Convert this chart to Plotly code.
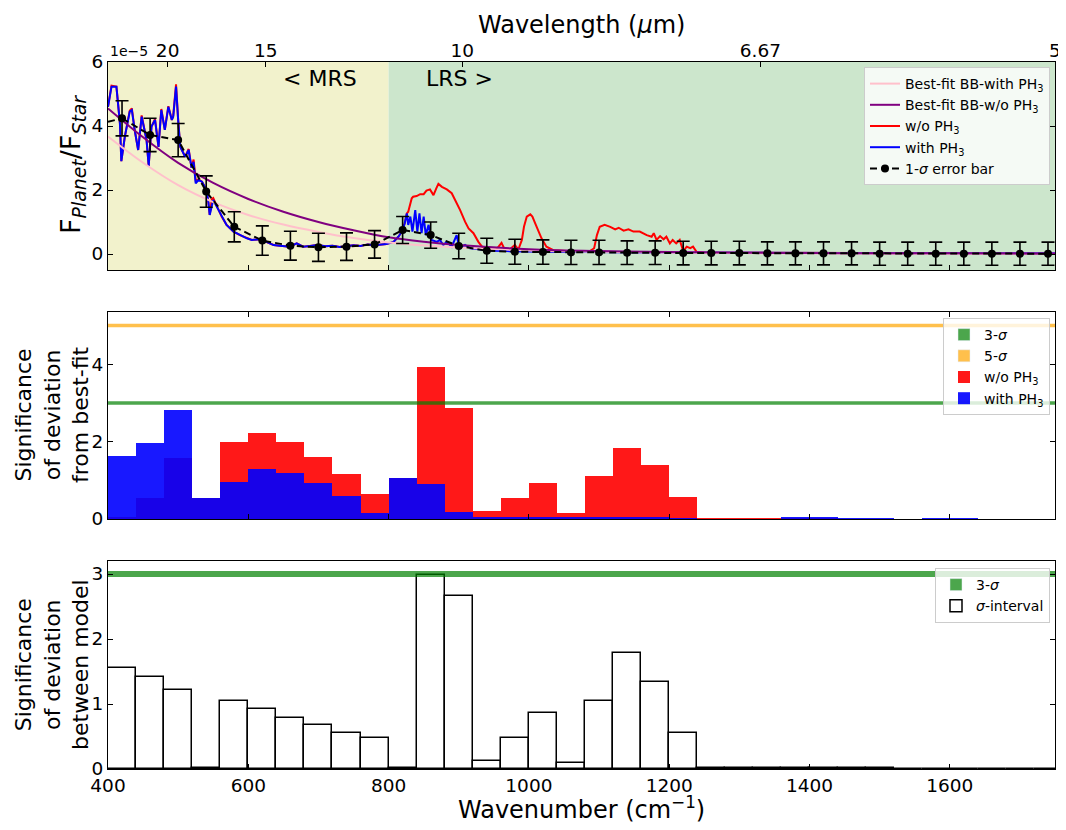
import plotly.graph_objects as go

# ---------------- data ----------------
# Top panel: high-resolution spectra (wavenumber cm^-1, F_planet/F_star in 1e-5)
wn_blue = [400, 405, 412, 417, 419, 424, 431, 434, 438, 443, 448, 452, 455, 458, 462, 467, 472, 476,
           481, 486, 491, 493, 497, 500, 503, 510, 515, 519, 522, 525, 529, 534, 538, 541, 543, 545,
           548, 550, 555, 562, 569, 579, 588, 598, 605, 617, 626, 636, 645, 659, 669, 678, 688, 698,
           710, 720, 730, 740, 750, 760, 770, 780, 788, 797, 807, 814, 819, 823, 826, 828, 831, 834,
           838, 841, 844, 847, 850, 853, 857, 861, 869, 873, 878, 883, 890, 897, 901, 909, 916, 926,
           935, 949, 968, 987, 1000, 1050, 1080, 1100, 1150, 1200, 1250, 1300, 1350, 1400, 1450,
           1500, 1600, 1750]
flux_blue = [4.60, 5.23, 5.23, 4.08, 2.90, 3.67, 4.45, 4.50, 3.88, 3.25, 4.29, 3.88, 3.56, 2.75, 3.98,
             4.19, 3.35, 4.50, 3.88, 4.60, 4.19, 4.29, 5.23, 4.19, 3.35, 3.04, 3.25, 2.70, 2.88, 2.21,
             2.31, 2.26, 2.10, 1.90, 1.64, 1.22, 1.58, 1.69, 1.48, 1.17, 0.91, 0.70, 0.59, 0.49, 0.44,
             0.46, 0.38, 0.28, 0.26, 0.23, 0.33, 0.23, 0.25, 0.28, 0.24, 0.26, 0.22, 0.24, 0.27, 0.25,
             0.30, 0.27, 0.28, 0.31, 0.38, 0.54, 0.70, 0.96, 1.27, 0.91, 1.17, 0.70, 1.37, 0.70, 1.27,
             0.65, 1.17, 0.59, 0.91, 0.44, 0.38, 0.44, 0.28, 0.38, 0.23, 0.59, 0.18, 0.28, 0.18, 0.15,
             0.12, 0.10, 0.09, 0.08, 0.07, 0.06, 0.08, 0.06, 0.05, 0.05, 0.04, 0.04, 0.03, 0.03, 0.03,
             0.02, 0.02, 0.02]

wn_red = [400, 405, 412, 417, 419, 424, 431, 434, 438, 443, 448, 452, 455, 458, 462, 467, 472, 476,
          481, 486, 491, 493, 497, 500, 503, 510, 515, 519, 522, 525, 529, 534, 538, 541, 543, 545,
          548, 550, 555, 562, 569, 579, 588, 598, 605, 617, 626, 636, 645, 659, 669, 678, 688, 698,
          710, 720, 730, 740, 750, 760, 770, 780, 788, 797, 807, 814, 819, 823, 826, 828, 833, 835,
          840, 845, 850, 854, 859, 864, 868, 871, 876, 883, 890, 895, 902, 909, 914, 921, 928, 935,
          940, 947, 954, 961, 966, 973, 980, 985, 990, 993, 997, 1002, 1005, 1009, 1013, 1018, 1025,
          1035, 1054, 1087, 1093, 1097, 1101, 1108, 1116, 1123, 1128, 1135, 1142, 1149, 1158, 1168,
          1175, 1178, 1182, 1187, 1192, 1196, 1201, 1205, 1210, 1215, 1220, 1225, 1230, 1234, 1239,
          1250, 1300, 1400, 1500, 1600, 1750]
flux_red = [4.60, 5.26, 5.23, 4.08, 2.90, 3.67, 4.48, 4.55, 3.88, 3.25, 4.33, 3.88, 3.56, 2.75, 3.98,
            4.22, 3.35, 4.53, 3.88, 4.62, 4.19, 4.33, 5.30, 4.19, 3.35, 3.04, 3.28, 2.70, 2.95, 2.30,
            2.33, 2.26, 2.10, 1.90, 1.64, 1.22, 1.72, 1.75, 1.50, 1.17, 0.91, 0.70, 0.59, 0.49, 0.44,
            0.46, 0.38, 0.28, 0.26, 0.23, 0.33, 0.23, 0.25, 0.28, 0.24, 0.26, 0.22, 0.24, 0.27, 0.25,
            0.30, 0.27, 0.28, 0.31, 0.38, 0.54, 0.70, 0.96, 1.27, 1.32, 1.74, 1.79, 1.81, 1.87, 1.87,
            1.98, 2.02, 1.84, 2.05, 2.19, 2.10, 2.02, 1.90, 1.69, 1.37, 1.01, 0.80, 0.65, 0.38, 0.18,
            0.12, 0.12, 0.15, 0.35, 0.12, 0.15, 0.28, 0.14, 0.44, 0.85, 1.17, 1.24, 1.17, 0.96, 0.75,
            0.49, 0.23, 0.12, 0.09, 0.09, 0.18, 0.59, 0.85, 0.91, 0.85, 0.77, 0.82, 0.73, 0.77, 0.70,
            0.70, 0.59, 0.54, 0.65, 0.44, 0.56, 0.46, 0.54, 0.33, 0.44, 0.33, 0.44, 0.09, 0.23, 0.18,
            0.23, 0.07, 0.05, 0.04, 0.03, 0.03, 0.02, 0.02]

# Best-fit blackbody curves
wn_bb = [400, 450, 500, 550, 600, 650, 700, 750, 800, 850, 900, 1000, 1100, 1200, 1300, 1400, 1500, 1600, 1750]
bb_with_ph3 = [3.67, 2.85, 2.15, 1.62, 1.22, 0.92, 0.69, 0.50, 0.36, 0.27, 0.20, 0.11, 0.07, 0.04, 0.03, 0.02, 0.01, 0.01, 0.01]
bb_without_ph3 = [4.55, 3.65, 2.85, 2.22, 1.72, 1.32, 1.00, 0.74, 0.52, 0.38, 0.28, 0.15, 0.09, 0.06, 0.04, 0.03, 0.02, 0.02, 0.01]

# Binned points with 1-sigma error bars
bin_centers = [420, 460, 500, 540, 580, 620, 660, 700, 740, 780, 820, 860, 900, 940, 980, 1020, 1060,
               1100, 1140, 1180, 1220, 1260, 1300, 1340, 1380, 1420, 1460, 1500, 1540, 1580, 1620,
               1660, 1700, 1740]
binned_flux = [4.24, 3.72, 3.56, 1.95, 0.85, 0.42, 0.26, 0.21, 0.23, 0.30, 0.75, 0.59, 0.25, 0.10, 0.07,
               0.06, 0.05, 0.05, 0.04, 0.04, 0.03, 0.03, 0.03, 0.02, 0.02, 0.02, 0.02, 0.01, 0.01, 0.01,
               0.01, 0.01, 0.01, 0.01]
binned_err = [0.55, 0.52, 0.52, 0.49, 0.47, 0.46, 0.45, 0.44, 0.43, 0.43, 0.42, 0.41, 0.40, 0.39, 0.39,
              0.38, 0.38, 0.38, 0.37, 0.37, 0.37, 0.37, 0.37, 0.36, 0.36, 0.36, 0.36, 0.36, 0.36, 0.36,
              0.36, 0.36, 0.36, 0.36]
# binned model line starts at the left edge of the first bin
binned_line_start_x = 400
binned_line_start_y = 4.13

# Middle panel: significance of deviation from best fit (per 40 cm^-1 bin)
bin_width = 40
sig_without_ph3 = [0.06, 0.55, 1.57, 0.53, 2.00, 2.21, 1.98, 1.60, 1.17, 0.65, 1.07, 3.93, 2.88, 0.20,
                   0.53, 0.94, 0.16, 1.11, 1.83, 1.40, 0.56, 0.02, 0.02, 0.02, 0.01, 0.01, 0.0, 0.0,
                   0.0, 0.0, 0.0, 0.0, 0.0, 0.0]
sig_with_ph3 = [1.64, 1.97, 2.82, 0.53, 0.95, 1.28, 1.18, 0.93, 0.60, 0.16, 1.07, 0.91, 0.17, 0.05,
                0.04, 0.04, 0.05, 0.05, 0.05, 0.05, 0.01, 0.0, 0.0, 0.0, 0.04, 0.04, 0.02, 0.01,
                0.0, 0.02, 0.01, 0.0, 0.0, 0.0]

# Bottom panel: significance of deviation between models
sig_between = [1.56, 1.41, 1.22, 0.01, 1.04, 0.92, 0.79, 0.67, 0.56, 0.48, 0.01, 2.98, 2.66, 0.13,
               0.47, 0.86, 0.10, 1.05, 1.78, 1.34, 0.56, 0.01, 0.02, 0.02, 0.01, 0.01, 0.01, 0.01,
               0.0, 0.0, 0.0, 0.0, 0.0, 0.0]

sigma_levels = {"3-σ": 3, "5-σ": 5}
x_range = [400, 1750]
bottom_ticks = [400, 600, 800, 1000, 1200, 1400, 1600]
wavelength_tick_pos = [485, 625, 905, 1330, 1750]
wavelength_tick_text = ["20", "15", "10", "6.67", "5"]
mrs_range = [400, 800]
lrs_range = [800, 1750]

# ---------------- figure ----------------
FONT = "DejaVu Sans"
GREEN = "rgba(0,128,0,0.7)"
ORANGE = "rgba(255,165,0,0.7)"

fig = go.Figure()

# top panel
fig.add_trace(go.Scatter(x=wn_red, y=flux_red, mode="lines", name="w/o PH<sub>3</sub>",
                         line=dict(color="red", width=2), legendrank=3, xaxis="x", yaxis="y"))
fig.add_trace(go.Scatter(x=wn_blue, y=flux_blue, mode="lines", name="with PH<sub>3</sub>",
                         line=dict(color="blue", width=2), legendrank=4, xaxis="x", yaxis="y"))
fig.add_trace(go.Scatter(x=wn_bb, y=bb_with_ph3, mode="lines", name="Best-fit BB-with PH<sub>3</sub>",
                         line=dict(color="pink", width=2, shape="spline"), legendrank=1, xaxis="x", yaxis="y"))
fig.add_trace(go.Scatter(x=wn_bb, y=bb_without_ph3, mode="lines", name="Best-fit BB-w/o PH<sub>3</sub>",
                         line=dict(color="purple", width=2, shape="spline"), legendrank=2, xaxis="x", yaxis="y"))
fig.add_trace(go.Scatter(x=[binned_line_start_x, bin_centers[0]], y=[binned_line_start_y, binned_flux[0]],
                         mode="lines", line=dict(color="black", width=2, dash="7px,4px"),
                         showlegend=False, hoverinfo="skip", xaxis="x", yaxis="y"))
fig.add_trace(go.Scatter(x=bin_centers, y=binned_flux, mode="lines+markers", name="1-<i>σ</i> error bar",
                         line=dict(color="black", width=2, dash="7px,4px"),
                         marker=dict(color="black", size=8),
                         error_y=dict(type="data", array=binned_err, color="black", thickness=1.6, width=6.5),
                         legendrank=5, xaxis="x", yaxis="y"))
# invisible carrier so the secondary (wavelength) axis is drawn
fig.add_trace(go.Scatter(x=wavelength_tick_pos, y=[None] * len(wavelength_tick_pos), mode="markers",
                         showlegend=False, hoverinfo="skip", xaxis="x4", yaxis="y"))

# middle panel: legend dummies for sigma levels
for (lab, lvl), col in zip(sigma_levels.items(), [GREEN, ORANGE]):
    fig.add_trace(go.Bar(x=[None], y=[None], name=lab.replace("σ", "<i>σ</i>"), marker_color=col,
                         xaxis="x2", yaxis="y2", legend="legend2"))
fig.add_trace(go.Bar(x=bin_centers, y=sig_without_ph3, width=bin_width, name="w/o PH<sub>3</sub>",
                     marker=dict(color="red", line=dict(width=0)), opacity=0.9,
                     xaxis="x2", yaxis="y2", legend="legend2"))
fig.add_trace(go.Bar(x=bin_centers, y=sig_with_ph3, width=bin_width, name="with PH<sub>3</sub>",
                     marker=dict(color="blue", line=dict(width=0)), opacity=0.9,
                     xaxis="x2", yaxis="y2", legend="legend2"))
for (lab, lvl), col in zip(sigma_levels.items(), [GREEN, ORANGE]):
    fig.add_trace(go.Scatter(x=x_range, y=[lvl, lvl], mode="lines", line=dict(color=col, width=3.5),
                             showlegend=False, xaxis="x2", yaxis="y2"))

# bottom panel
fig.add_trace(go.Bar(x=[None], y=[None], name="3-<i>σ</i>", marker_color=GREEN,
                     xaxis="x3", yaxis="y3", legend="legend3"))
fig.add_trace(go.Bar(x=bin_centers, y=sig_between, width=bin_width, name="<i>σ</i>-interval",
                     marker=dict(color="white", line=dict(color="black", width=1.5)),
                     xaxis="x3", yaxis="y3", legend="legend3"))
fig.add_trace(go.Scatter(x=x_range, y=[sigma_levels["3-σ"]] * 2, mode="lines",
                         line=dict(color=GREEN, width=6), showlegend=False, xaxis="x3", yaxis="y3"))

# geometry (target pixel positions; the page adds an 8px body margin)
OFF = 8
FW, FH = 1066, 830
PL, PR, PT, PB = 108, 1055, 62, 769          # plot area in target pixels
L, R, T, B = PL - OFF, FW - (PR - OFF), PT - OFF, FH - (PB - OFF)
H = FH - T - B
W = FW - L - R
def py(p):  # target pixel row -> paper fraction
    return (PB - p) / H
def px_(p):  # target pixel column -> paper fraction
    return (p - PL) / W

dom_top = [py(270), 1.0]
dom_mid = [py(519), py(312)]
dom_bot = [0.0, py(561)]

tickfont = dict(family=FONT, size=18.5, color="black")
axis_common = dict(showline=True, linecolor="black", linewidth=1.2, ticks="inside", ticklen=5,
                   tickwidth=1.2, tickcolor="black", showgrid=False, zeroline=False, tickfont=tickfont,
                   automargin=False)

legend_style = dict(xanchor="right", yanchor="top", bgcolor="rgba(255,255,255,0.8)",
                    bordercolor="#cccccc", borderwidth=1, font=dict(family=FONT, size=14, color="black"))

fig.update_layout(
    width=FW, height=FH,
    margin=dict(l=L, r=R, t=T, b=B, autoexpand=False),
    paper_bgcolor="white", plot_bgcolor="white",
    font=dict(family=FONT, color="black"),
    barmode="overlay", bargap=0,
    xaxis=dict(domain=[0, 1], anchor="y", range=x_range, tickvals=bottom_ticks, showticklabels=False,
               mirror=True, **axis_common),
    xaxis4=dict(overlaying="x", anchor="y", side="top", range=x_range, tickvals=wavelength_tick_pos,
                ticktext=wavelength_tick_text, showline=False, ticks="inside", ticklen=5, tickwidth=1.2,
                tickcolor="black", showgrid=False, zeroline=False, tickfont=tickfont, automargin=False),
    yaxis=dict(domain=dom_top, anchor="x", range=[-0.5, 6], tickvals=[0, 2, 4, 6], mirror="ticks", **axis_common),
    xaxis2=dict(domain=[0, 1], anchor="y2", range=x_range, tickvals=bottom_ticks, showticklabels=False,
                mirror="ticks", **axis_common),
    yaxis2=dict(domain=dom_mid, anchor="x2", range=[0, 5.35], tickvals=[0, 2, 4], mirror="ticks", **axis_common),
    xaxis3=dict(domain=[0, 1], anchor="y3", range=x_range, tickvals=bottom_ticks, mirror=True, **axis_common),
    yaxis3=dict(domain=dom_bot, anchor="x3", range=[0, 3.2], tickvals=[0, 1, 2, 3], mirror="ticks", **axis_common),
    legend=dict(x=px_(1050), y=py(67), traceorder="normal", **legend_style),
    legend2=dict(x=px_(1050), y=py(318), **legend_style),
    legend3=dict(x=px_(1050), y=py(568), **legend_style),
    shapes=[
        dict(type="rect", xref="x", yref="y domain", x0=mrs_range[0], x1=mrs_range[1], y0=0, y1=1,
             fillcolor="#f2f2cc", line=dict(width=0), layer="below"),
        dict(type="rect", xref="x", yref="y domain", x0=lrs_range[0], x1=lrs_range[1], y0=0, y1=1,
             fillcolor="#cce6cc", line=dict(width=0), layer="below"),
    ],
)

big_font = dict(family=FONT, size=24, color="black")
ytitle_font = dict(family=FONT, size=22, color="black")
fig.add_annotation(text="&lt; MRS", x=758, y=5.5, xref="x", yref="y", xanchor="right", yanchor="middle",
                   showarrow=False, font=dict(family=FONT, size=22, color="black"))
fig.add_annotation(text="LRS &gt;", x=850, y=5.5, xref="x", yref="y", xanchor="left", yanchor="middle",
                   showarrow=False, font=dict(family=FONT, size=22, color="black"))
fig.add_annotation(text="1e−5", x=0, y=1, xref="paper", yref="paper", xanchor="left", yanchor="bottom",
                   yshift=1, showarrow=False, font=dict(family=FONT, size=14, color="black"))
fig.add_annotation(text="Wavelength (<i>μ</i>m)", x=0.5, y=py(9), xref="paper", yref="paper",
                   xanchor="center", yanchor="top", showarrow=False, font=big_font)
fig.add_annotation(text="Wavenumber (cm<sup>−1</sup>)", x=0.5, y=py(808), xref="paper", yref="paper",
                   xanchor="center", yanchor="middle", showarrow=False, font=big_font)
fig.add_annotation(text="F<sub><i>Planet</i></sub>/F<sub><i>Star</i></sub>", textangle=-90, x=px_(72), y=py(165),
                   xref="paper", yref="paper", xanchor="center", yanchor="middle", showarrow=False,
                   font=dict(family=FONT, size=27, color="black"))
fig.add_annotation(text="Significance<br>of deviation<br>from best-fit", textangle=-90, x=px_(52), y=py(415),
                   xref="paper", yref="paper", xanchor="center", yanchor="middle", showarrow=False,
                   font=ytitle_font)
fig.add_annotation(text="Significance<br>of deviation<br>between model", textangle=-90, x=px_(52), y=py(665),
                   xref="paper", yref="paper", xanchor="center", yanchor="middle", showarrow=False,
                   font=ytitle_font)

fig.write_html("out.html")
